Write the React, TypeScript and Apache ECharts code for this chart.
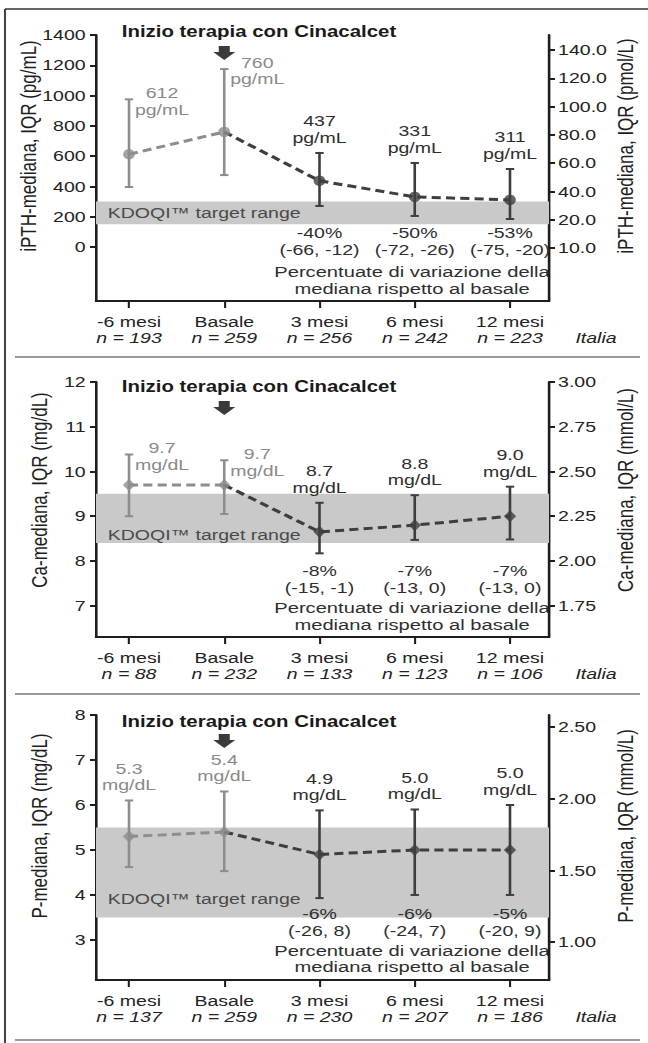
import React, { useEffect, useRef } from 'react';
import * as echarts from 'echarts';

// ---------- data ----------
const categories = ['-6 mesi', 'Basale', '3 mesi', '6 mesi', '12 mesi'];

const pthN = [193, 259, 256, 242, 223];
const pthMedian = [612, 760, 437, 331, 311];
const pthQ1 = [396, 475, 271, 205, 185];
const pthQ3 = [975, 1175, 621, 555, 515];
const pthLabel = ['612', '760', '437', '331', '311'];
const pthPct = ['', '', '-40%', '-50%', '-53%'];
const pthPctRange = ['', '', '(-66, -12)', '(-72, -26)', '(-75, -20)'];
const pthLeftTicks = [0, 200, 400, 600, 800, 1000, 1200, 1400];
const pthRightTicks = [0, 20, 40, 60, 80, 100, 120, 140];
const pthBand = [150, 300];

const caN = [88, 232, 133, 123, 106];
const caMedian = [9.7, 9.7, 8.65, 8.8, 9.0];
const caQ1 = [9.0, 9.05, 8.17, 8.47, 8.48];
const caQ3 = [10.38, 10.25, 9.3, 9.47, 9.66];
const caLabel = ['9.7', '9.7', '8.7', '8.8', '9.0'];
const caPct = ['', '', '-8%', '-7%', '-7%'];
const caPctRange = ['', '', '(-15, -1)', '(-13, 0)', '(-13, 0)'];
const caLeftTicks = [7, 8, 9, 10, 11, 12];
const caRightTicks = [1.75, 2.0, 2.25, 2.5, 2.75, 3.0];
const caBand = [8.4, 9.5];

const pN = [137, 259, 230, 207, 186];
const pMedian = [5.3, 5.4, 4.9, 5.0, 5.0];
const pQ1 = [4.62, 4.53, 3.93, 4.0, 4.0];
const pQ3 = [6.1, 6.3, 5.88, 5.9, 6.0];
const pLabel = ['5.3', '5.4', '4.9', '5.0', '5.0'];
const pPct = ['', '', '-6%', '-6%', '-5%'];
const pPctRange = ['', '', '(-26, 8)', '(-24, 7)', '(-20, 9)'];
const pLeftTicks = [3, 4, 5, 6, 7, 8];
const pRightTicks = [1.0, 1.5, 2.0, 2.5];
const pBand = [3.5, 5.5];

// ---------- layout ----------
const W = 498;
const H = 1043;
const S = 648 / W;
const ix = (x: number) => x / S;
const FONT = '"Liberation Sans", Arial, Helvetica, sans-serif';
const X_MIN = -0.3465;
const X_MAX = 4.4095;
const GRID_LEFT = ix(96);
const GRID_RIGHT = W - ix(549);
const GRID_W = W - GRID_LEFT - GRID_RIGHT;
const GREY = '#8d8d8d';
const DARK = '#3e3e3e';
const AXIS = '#1e1e1e';
const catX = (i: number) => GRID_LEFT + ((i - X_MIN) / (X_MAX - X_MIN)) * GRID_W;

const panels = [
  {
    n: pthN, median: pthMedian, q1: pthQ1, q3: pthQ3, label: pthLabel, unit: 'pg/mL',
    pct: pthPct, range: pthPctRange, leftTicks: pthLeftTicks, rightTicks: pthRightTicks, band: pthBand,
    leftFmt: (v: number) => String(v), rightFmt: (v: number) => (v === 0 ? '10.0' : v.toFixed(1)),
    leftName: 'iPTH-mediana, IQR (pg/mL)', rightName: 'iPTH-mediana, IQR (pmol/L)',
    top: 35, bottom: 301, lMin: -356.6, lMax: 1400, rMin: -37.5, rMax: 150.6,
    symbol: 'circle', symbolSize: [9, 10.5], side: true,
    pctY: 241.5, percY: 280.5, titleY: 32, arrowY: 46, nameLX: 28, nameY: 146, bandDy: 0,
  },
  {
    n: caN, median: caMedian, q1: caQ1, q3: caQ3, label: caLabel, unit: 'mg/dL',
    pct: caPct, range: caPctRange, leftTicks: caLeftTicks, rightTicks: caRightTicks, band: caBand,
    leftFmt: (v: number) => String(v), rightFmt: (v: number) => v.toFixed(2),
    leftName: 'Ca-mediana, IQR (mg/dL)', rightName: 'Ca-mediana, IQR (mmol/L)',
    top: 382, bottom: 637, lMin: 6.3, lMax: 12, rMin: 1.575, rMax: 3.0,
    symbol: 'diamond', symbolSize: [9.5, 12], side: true,
    pctY: 579, percY: 616.5, titleY: 387, arrowY: 401, nameLX: 39, nameY: 490, bandDy: 16,
  },
  {
    n: pN, median: pMedian, q1: pQ1, q3: pQ3, label: pLabel, unit: 'mg/dL',
    pct: pPct, range: pPctRange, leftTicks: pLeftTicks, rightTicks: pRightTicks, band: pBand,
    leftFmt: (v: number) => String(v), rightFmt: (v: number) => v.toFixed(2),
    leftName: 'P-mediana, IQR (mg/dL)', rightName: 'P-mediana, IQR (mmol/L)',
    top: 715, bottom: 980, lMin: 2.11, lMax: 8, rMin: 0.735, rMax: 2.584,
    symbol: 'diamond', symbolSize: [9.5, 12], side: false,
    pctY: 922, percY: 959, titleY: 722, arrowY: 734, nameLX: 39, nameY: 826, bandDy: 26,
  },
];

const idx = [0, 1, 2, 3, 4];

function buildOption() {
  const grid: any[] = [];
  const xAxis: any[] = [];
  const yAxis: any[] = [];
  const series: any[] = [];
  const graphic: any[] = [];

  const axisLineStyle = { color: AXIS, width: 2 };

  panels.forEach((p, k) => {
    grid.push({ left: GRID_LEFT, right: GRID_RIGHT, top: p.top, height: p.bottom - p.top, containLabel: false });
    xAxis.push({
      type: 'value', gridIndex: k, min: X_MIN, max: X_MAX,
      axisLine: { show: true, onZero: false, lineStyle: axisLineStyle },
      axisTick: { show: true, customValues: idx, length: 7, lineStyle: { color: AXIS, width: 1.6 } },
      splitLine: { show: false },
      axisLabel: {
        customValues: idx, margin: 13, fontSize: 15, lineHeight: 16, color: '#222', fontFamily: FONT,
        formatter: (v: number) => `${categories[v]}\n{n|n = ${p.n[v]}}`,
        rich: { n: { fontStyle: 'italic', fontSize: 15, lineHeight: 16, color: '#222', fontFamily: FONT } },
      },
    });
    yAxis.push({
      type: 'value', gridIndex: k, position: 'left', min: p.lMin, max: p.lMax,
      axisLine: { show: true, onZero: false, lineStyle: axisLineStyle },
      axisTick: { show: true, customValues: p.leftTicks, length: 4.6, lineStyle: { color: AXIS, width: 2 } },
      axisLabel: { customValues: p.leftTicks, margin: 8, fontSize: 15, color: '#222', fontFamily: FONT, formatter: p.leftFmt },
      splitLine: { show: false },
    });
    yAxis.push({
      type: 'value', gridIndex: k, position: 'right', min: p.rMin, max: p.rMax,
      axisLine: { show: true, onZero: false, lineStyle: axisLineStyle },
      axisTick: { show: true, customValues: p.rightTicks, length: 4.6, lineStyle: { color: AXIS, width: 2 } },
      axisLabel: { customValues: p.rightTicks, margin: 7, fontSize: 15, color: '#222', fontFamily: FONT, formatter: p.rightFmt },
      splitLine: { show: false },
    });

    const yl = 2 * k;
    // error bars + value labels + % labels
    series.push({
      type: 'custom', xAxisIndex: k, yAxisIndex: yl, z: 2, silent: true,
      data: idx.map((i) => [i, p.q1[i], p.q3[i]]),
      encode: { x: 0, y: [1, 2] },
      renderItem: (params: any, api: any) => {
        const i = params.dataIndex;
        const x = api.value(0);
        const top = api.coord([x, api.value(2)]);
        const bot = api.coord([x, api.value(1)]);
        const col = i < 2 ? GREY : DARK;
        const cw = 3.2;
        const children: any[] = [
          { type: 'line', shape: { x1: top[0], y1: top[1], x2: bot[0], y2: bot[1] }, style: { stroke: col, lineWidth: 2 } },
          { type: 'line', shape: { x1: top[0] - cw, y1: top[1], x2: top[0] + cw, y2: top[1] }, style: { stroke: col, lineWidth: 2 } },
          { type: 'line', shape: { x1: bot[0] - cw, y1: bot[1], x2: bot[0] + cw, y2: bot[1] }, style: { stroke: col, lineWidth: 2 } },
        ];
        const side = p.side && i < 2;
        children.push({
          type: 'text',
          x: side ? top[0] + ix(33) : top[0],
          y: side ? top[1] + 2 : top[1] - 7,
          style: {
            text: `${p.label[i]}\n${p.unit}`,
            fill: i < 2 ? '#8a8a8a' : '#2e2e2e',
            fontSize: 15, fontFamily: FONT, lineHeight: 16.5,
            align: 'center', verticalAlign: side ? 'middle' : 'bottom',
          },
        });
        if (p.pct[i]) {
          children.push({
            type: 'text', x: top[0], y: p.pctY,
            style: {
              text: `${p.pct[i]}\n${p.range[i]}`, fill: '#2e2e2e', fontSize: 15, fontFamily: FONT,
              lineHeight: 17, align: 'center', verticalAlign: 'middle',
            },
          });
        }
        return { type: 'group', children };
      },
    });
    // grey segment
    series.push({
      type: 'line', xAxisIndex: k, yAxisIndex: yl, z: 3, showSymbol: false, silent: true,
      data: [0, 1].map((i) => [i, p.median[i]]),
      lineStyle: { color: GREY, width: 3, type: [7, 4] },
    });
    // dark segment + band
    series.push({
      type: 'line', xAxisIndex: k, yAxisIndex: yl, z: 3, showSymbol: false, silent: true,
      data: [1, 2, 3, 4].map((i) => [i, p.median[i]]),
      lineStyle: { color: DARK, width: 3, type: [7, 4] },
      markArea: {
        silent: true,
        itemStyle: { color: '#c9c9c9', opacity: 1 },
        label: {
          show: true, position: 'insideLeft', distance: 9, offset: [0, p.bandDy],
          formatter: 'KDOQI™ target range', color: '#4a4a4a', fontSize: 15, fontFamily: FONT,
        },
        data: [[{ yAxis: p.band[0] }, { yAxis: p.band[1] }]],
      },
    });
    // markers
    series.push({
      type: 'scatter', xAxisIndex: k, yAxisIndex: yl, z: 4, silent: true,
      symbol: p.symbol, symbolSize: p.symbolSize,
      data: idx.map((i) => ({ value: [i, p.median[i]], itemStyle: { color: i < 2 ? GREY : DARK } })),
    });

    // title
    graphic.push({
      type: 'text', x: ix(259), y: p.titleY,
      style: {
        text: 'Inizio terapia con Cinacalcet', fill: '#1a1a1a', fontSize: 15.7, fontWeight: 'bold', fontFamily: FONT,
        align: 'center', verticalAlign: 'middle', textAlign: 'center', textVerticalAlign: 'middle',
      },
    });
    // arrow
    const ax = catX(1);
    const sh = ix(5.5);
    const hh = ix(11);
    const ay = p.arrowY;
    graphic.push({
      type: 'polygon',
      shape: {
        points: [
          [ax - sh, ay], [ax + sh, ay], [ax + sh, ay + 6], [ax + hh, ay + 6],
          [ax, ay + 14], [ax - hh, ay + 6], [ax - sh, ay + 6],
        ],
      },
      style: { fill: '#3a3a3a' },
    });
    // Percentuate
    graphic.push({
      type: 'text', x: ix(412), y: p.percY,
      style: {
        text: 'Percentuate di variazione della\nmediana rispetto al basale', fill: '#2e2e2e', fontSize: 15.5,
        fontFamily: FONT, lineHeight: 16.5, align: 'center', verticalAlign: 'middle',
        textAlign: 'center', textVerticalAlign: 'middle',
      },
    });
    // Italia
    graphic.push({
      type: 'text', x: ix(596), y: p.bottom + 37,
      style: {
        text: 'Italia', fill: '#222', fontSize: 15, fontStyle: 'italic', fontFamily: FONT,
        align: 'center', verticalAlign: 'middle', textAlign: 'center', textVerticalAlign: 'middle',
      },
    });
    // axis names
    graphic.push({
      type: 'text', x: ix(p.nameLX), y: p.nameY, rotation: Math.PI / 2,
      style: {
        text: p.leftName, fill: '#1e1e1e', fontSize: 17, fontFamily: FONT,
        align: 'center', verticalAlign: 'middle', textAlign: 'center', textVerticalAlign: 'middle',
      },
    });
    graphic.push({
      type: 'text', x: ix(625), y: p.nameY, rotation: Math.PI / 2,
      style: {
        text: p.rightName, fill: '#1e1e1e', fontSize: 17, fontFamily: FONT,
        align: 'center', verticalAlign: 'middle', textAlign: 'center', textVerticalAlign: 'middle',
      },
    });
  });

  // frame and separators
  graphic.push({ type: 'line', shape: { x1: ix(5), y1: 9, x2: ix(5), y2: H }, style: { stroke: '#444', lineWidth: 1.6 } });
  graphic.push({ type: 'line', shape: { x1: ix(5), y1: 9, x2: W, y2: 9 }, style: { stroke: '#333', lineWidth: 1.6 } });
  [357, 694, 1040].forEach((y) => {
    graphic.push({ type: 'line', shape: { x1: ix(15), y1: y, x2: ix(640), y2: y }, style: { stroke: '#9a9a9a', lineWidth: 2 } });
  });

  return {
    animation: false,
    backgroundColor: '#ffffff',
    textStyle: { fontFamily: FONT },
    grid, xAxis, yAxis, series, graphic,
  };
}

export default function App() {
  const ref = useRef<HTMLDivElement>(null);
  useEffect(() => {
    if (!ref.current) return;
    const chart = echarts.init(ref.current, null, { renderer: 'svg' });
    chart.setOption(buildOption() as any);
    return () => chart.dispose();
  }, []);
  return (
    <div
      ref={ref}
      style={{
        position: 'absolute', left: 0, top: 0, width: W, height: H,
        transform: `scaleX(${S})`, transformOrigin: '0 0', background: '#fff',
      }}
    />
  );
}
